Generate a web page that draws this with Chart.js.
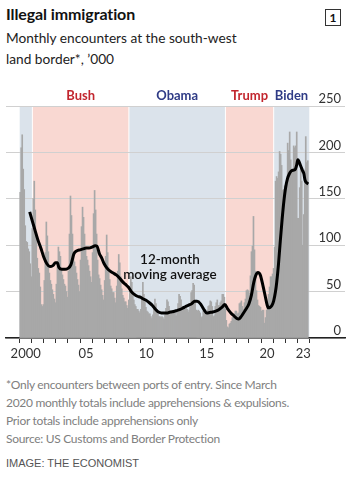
<!DOCTYPE html>
<html>
<head>
<meta charset="utf-8">
<script src="https://cdn.jsdelivr.net/npm/chart.js@4.4.1/dist/chart.umd.min.js"></script>
<style>
  body { margin: 0; width: 349px; height: 485px; background: #fff; position: relative; overflow: hidden;
         font-family: Lato, "Noto Sans", sans-serif; color: #121212; }
  .title { position: absolute; left: 6px; top: 4px; font-size: 16px; line-height: 20px; font-weight: 700; letter-spacing: -0.1px; }
  .sub { position: absolute; left: 6px; top: 27px; font-size: 13.7px; line-height: 21px; color: #222; }
  .num { position: absolute; left: 325px; top: 9px; width: 14px; height: 15px; border: 1.3px solid #333;
         font-size: 12px; font-weight: 700; line-height: 15px; text-align: center; }
  .chart { position: absolute; left: 0; top: 80px; width: 349px; height: 286px; }
  .notes { position: absolute; left: 6px; top: 376px; font-size: 12px; line-height: 18px; color: #808080; letter-spacing: -0.3px; }
  .credit { position: absolute; left: 6px; top: 455px; font-family: "Liberation Sans", Arial, sans-serif;
            font-size: 11px; line-height: 16px; color: #555; }
</style>
</head>
<body>
<div class="title">Illegal immigration</div>
<div class="sub">Monthly encounters at the south-west<br>land border*, ’000</div>
<div class="num">1</div>
<div class="chart"><canvas id="chart"></canvas></div>
<div class="notes">*Only encounters between ports of entry. Since March<br>2020 monthly totals include apprehensions &amp; expulsions.<br>Prior totals include apprehensions only<br>Source: US Customs and Border Protection</div>
<div class="credit">IMAGE: THE ECONOMIST</div>

<script>
// monthly south-west border encounters, '000, Jan 2000 to Nov 2023
const startYear = 2000;
const encounters = [
  157, 205, 219, 182, 160, 121, 104, 103, 96, 93, 80, 66,   // 2000
  118, 150, 169, 138, 110, 86, 75, 70, 55, 36, 34, 36,      // 2001
  62, 92, 125, 110, 93, 70, 62, 58, 52, 47, 42, 38,         // 2002
  58, 82, 98, 93, 88, 73, 68, 63, 58, 56, 50, 44,           // 2003
  72, 112, 153, 132, 112, 92, 82, 77, 70, 63, 57, 50,       // 2004
  84, 120, 141, 130, 112, 96, 88, 84, 78, 72, 66, 60,       // 2005
  92, 134, 159, 138, 112, 84, 68, 64, 57, 52, 46, 41,       // 2006
  62, 88, 111, 92, 76, 63, 56, 53, 49, 49, 43, 38,          // 2007
  56, 72, 90, 81, 66, 53, 46, 43, 39, 39, 35, 32,           // 2008
  41, 55, 66, 60, 50, 41, 36, 34, 31, 31, 29, 27,           // 2009
  31, 41, 60, 47, 39, 33, 29, 28, 26, 26, 23, 21,           // 2010
  25, 33, 42, 37, 31, 26, 23, 23, 22, 23, 22, 20,           // 2011
  25, 32, 41, 39, 34, 29, 27, 28, 28, 29, 27, 24,           // 2012
  29, 37, 47, 45, 41, 34, 33, 34, 34, 34, 31, 28,           // 2013
  30, 37, 49, 51, 59, 57, 40, 30, 29, 30, 29, 27,           // 2014
  22, 23, 29, 29, 31, 29, 30, 34, 35, 40, 39, 34,           // 2015
  23, 24, 34, 38, 41, 35, 35, 38, 40, 47, 47, 44,           // 2016
  31, 19, 12, 11, 15, 16, 18, 22, 23, 26, 29, 29,           // 2017
  26, 27, 37, 38, 40, 34, 31, 38, 42, 51, 52, 51,           // 2018
  48, 67, 93, 99, 131, 95, 72, 51, 41, 35, 34, 33,          // 2019
  29, 30, 30, 16, 22, 30, 38, 47, 55, 66, 66, 69,           // 2020
  75, 98, 169, 174, 172, 179, 201, 198, 186, 159, 160, 164, // 2021
  155, 166, 210, 202, 222, 192, 182, 181, 207, 205, 207, 222, // 2022
  129, 129, 162, 182, 169, 100, 133, 181, 217, 189, 191     // 2023
];

// 12-month moving average, read at points along the curve
const avgYears = [
  2000.83, 2001.0, 2001.25, 2001.5, 2001.75, 2002.0, 2002.25, 2002.5, 2002.75, 2002.96,
  2003.12, 2003.25, 2003.5, 2003.75, 2004.0, 2004.25, 2004.5, 2004.75, 2005.0, 2005.25,
  2005.5, 2005.75, 2006.0, 2006.25, 2006.4, 2006.6, 2006.8, 2007.0, 2007.25, 2007.5,
  2007.75, 2008.0, 2008.25, 2008.5, 2008.75, 2009.0, 2009.25, 2009.5, 2009.75, 2010.0,
  2010.25, 2010.5, 2010.75, 2011.0, 2011.25, 2011.5, 2011.75, 2012.0, 2012.25, 2012.5,
  2012.75, 2013.0, 2013.25, 2013.5, 2013.75, 2014.0, 2014.25, 2014.5, 2014.7, 2015.0,
  2015.25, 2015.5, 2015.75, 2016.0, 2016.25, 2016.5, 2016.75, 2017.0, 2017.25, 2017.5,
  2017.75, 2018.0, 2018.15, 2018.35, 2018.55, 2018.75, 2019.0, 2019.2, 2019.4, 2019.55,
  2019.75, 2019.95, 2020.15, 2020.35, 2020.5, 2020.6, 2020.75, 2020.9, 2021.05, 2021.2,
  2021.3, 2021.45, 2021.6, 2021.75, 2021.9, 2022.05, 2022.2, 2022.35, 2022.5, 2022.7,
  2022.85, 2022.95, 2023.05, 2023.15, 2023.3, 2023.45, 2023.55, 2023.65, 2023.8, 2023.92
];
const avgValues = [
  136, 128, 117, 106, 97, 87, 80, 77, 78, 81,
  81, 76, 74, 74, 75, 79, 91, 94, 95, 96,
  97, 97, 98, 99.5, 99, 91, 86, 80, 75, 72,
  70, 68, 65, 61, 58, 55, 50, 47, 45, 44,
  42, 40.5, 38, 35, 31, 28, 27, 27, 27, 28,
  28.6, 29.5, 30.5, 32, 34, 35.5, 37, 39.5, 39.5, 36.5,
  31, 27, 27.5, 28, 29, 30.5, 33, 36, 31, 27,
  24, 21, 20.5, 23, 27, 31, 37, 46, 60, 67,
  70.5, 67.5, 57, 45, 36, 32.5, 33, 35, 40, 50,
  60, 80, 105, 128, 148, 163, 172, 177, 180, 181,
  182, 186, 192, 190, 185, 180, 177, 170, 167, 166
];

// presidential terms shaded behind the bars
const terms = ['', 'Bush', 'Obama', 'Trump', 'Biden'];
const termStart = [2000, 2001.05, 2009.05, 2017.05, 2021.05];
const termEnd = [2001.05, 2009.05, 2017.05, 2021.05, 2024];
const termParty = ['D', 'R', 'D', 'R', 'D'];

const yTicks = [0, 50, 100, 150, 200, 250];
const labelYears = [2000, 2005, 2010, 2015, 2020, 2023];
const xLabels = ['2000', '05', '10', '15', '20', '23'];

const FONT = 'Lato, "Noto Sans", sans-serif';
const bandFill = { D: '#dbe3eb', R: '#f9d8d2' };
const bandText = { D: '#2f3b86', R: '#c2262e' };

const bars = encounters.map((v, i) => ({ x: startYear + (i + 0.5) / 12, y: v }));
const avgLine = avgYears.map((t, i) => ({ x: t, y: avgValues[i] }));

const overlay = {
  id: 'overlay',
  beforeDraw(chart) {
    const { ctx, chartArea: a, scales: { x } } = chart;
    ctx.save();
    terms.forEach((name, i) => {
      const x0 = x.getPixelForValue(termStart[i]) + (i ? 0.5 : 0);
      const x1 = x.getPixelForValue(termEnd[i]) - (i < terms.length - 1 ? 0.5 : 0);
      ctx.fillStyle = bandFill[termParty[i]];
      ctx.fillRect(x0, a.top, x1 - x0, a.bottom - a.top);
    });
    ctx.restore();
  },
  afterDraw(chart) {
    const { ctx, chartArea: a, scales: { x, y } } = chart;
    ctx.save();
    ctx.textAlign = 'center';
    ctx.textBaseline = 'middle';
    ctx.font = `700 13px ${FONT}`;
    terms.forEach((name, i) => {
      if (!name) return;
      ctx.fillStyle = bandText[termParty[i]];
      ctx.fillText(name, x.getPixelForValue((termStart[i] + termEnd[i]) / 2), a.top - 10);
    });
    ctx.fillStyle = '#111';
    ctx.font = `600 13.5px ${FONT}`;
    const cx = x.getPixelForValue(2012.45);
    ctx.fillText('12-month', cx, y.getPixelForValue(84));
    ctx.fillText('moving average', cx, y.getPixelForValue(68.5));
    ctx.restore();
  }
};

new Chart(document.getElementById('chart'), {
  type: 'bar',
  data: {
    datasets: [
      {
        type: 'line',
        data: avgLine,
        borderColor: '#000',
        borderWidth: 3,
        pointRadius: 0,
        cubicInterpolationMode: 'monotone',
        fill: false,
        order: 1
      },
      {
        type: 'bar',
        data: bars,
        backgroundColor: '#a8a8a8',
        borderWidth: 0,
        barPercentage: 1,
        categoryPercentage: 1,
        order: 2
      }
    ]
  },
  options: {
    responsive: true,
    maintainAspectRatio: false,
    animation: false,
    devicePixelRatio: 1,
    layout: { padding: { left: 6, right: 0, top: 26, bottom: 0 } },
    plugins: { legend: { display: false }, tooltip: { enabled: false } },
    scales: {
      x: {
        type: 'linear',
        position: 'bottom',
        offset: false,
        min: 1998.865,
        max: 2026.96,
        afterBuildTicks: s => {
          const t = [];
          for (let yr = 2000; yr <= 2024; yr++) t.push({ value: yr });
          s.ticks = t;
        },
        afterFit: s => { s.height = 28; },
        grid: { offset: false, drawOnChartArea: false, drawTicks: true, tickLength: 5, color: '#333', lineWidth: 1 },
        border: { display: true, color: '#222', width: 1.5 },
        ticks: {
          padding: 3,
          maxRotation: 0,
          autoSkip: false,
          labelOffset: 6,
          color: '#333',
          font: { family: FONT, size: 13 },
          callback: v => {
            const k = labelYears.indexOf(Math.round(v));
            return k < 0 ? '' : xLabels[k];
          }
        }
      },
      y: {
        position: 'right',
        min: 0,
        max: 250,
        afterBuildTicks: s => { s.ticks = yTicks.map(v => ({ value: v })); },
        afterFit: s => { s.width = 4; },
        grid: { color: '#d0d0d0', lineWidth: 1, drawTicks: false },
        border: { display: false },
        ticks: {
          mirror: true,
          padding: -4,
          labelOffset: -7,
          color: '#333',
          font: { family: FONT, size: 13 }
        }
      }
    }
  },
  plugins: [overlay]
});
</script>
</body>
</html>
